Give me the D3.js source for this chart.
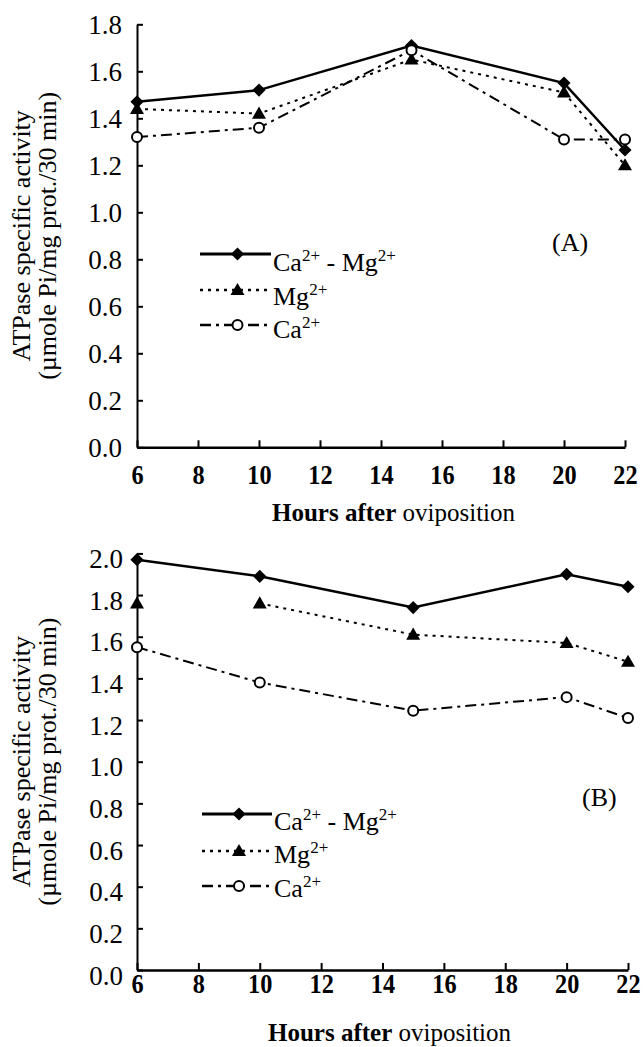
<!DOCTYPE html>
<html>
<head>
<meta charset="utf-8">
<script src="https://cdn.jsdelivr.net/npm/d3@7"></script>
<style>
  body { margin: 0; background: #fff; }
  svg { display: block; }
  text { font-family: "Liberation Serif", "Times New Roman", serif; fill: #000; }
</style>
</head>
<body>
<svg id="chart" width="644" height="1047"></svg>
<script>
// ---------- data ----------
const hours = [6, 10, 15, 20, 22];
const xTicks = [6, 8, 10, 12, 14, 16, 18, 20, 22];
const yTicksA = [0, 0.2, 0.4, 0.6, 0.8, 1.0, 1.2, 1.4, 1.6, 1.8];
const yTicksB = [0, 0.2, 0.4, 0.6, 0.8, 1.0, 1.2, 1.4, 1.6, 1.8, 2.0];
const seriesNames = ["Ca-Mg", "Mg", "Ca"];

// Panel A
const caMgA = [1.47, 1.52, 1.71, 1.55, 1.265];
const mgA   = [1.44, 1.42, 1.65, 1.51, 1.20];
const caA   = [1.32, 1.36, 1.69, 1.31, 1.31];

// Panel B
const caMgB = [1.97, 1.89, 1.74, 1.90, 1.84];
const mgB   = [1.76, 1.76, 1.61, 1.57, 1.48];
const caB   = [1.55, 1.38, 1.245, 1.31, 1.21];

const panelLabels = ["(A)", "(B)"];
const xTitle = ["Hours after", " oviposition"];
const yTitle = ["ATPase specific activity", "(µmole Pi/mg prot./30 min)"];

// ---------- drawing ----------
const svg = d3.select("#chart");

const styles = {
  "Ca-Mg": { dash: null, marker: "diamond", width: 2.5 },
  "Mg":    { dash: "3,5", marker: "triangle", width: 2 },
  "Ca":    { dash: "11,5,3,5", marker: "circle", width: 2 }
};

function drawMarker(g, type, x, y) {
  if (type === "diamond") {
    g.append("path").attr("d", d3.symbol().type(d3.symbolDiamond2).size(110)())
      .attr("transform", `translate(${x},${y})`).attr("fill", "#000");
  } else if (type === "triangle") {
    g.append("path").attr("d", d3.symbol().type(d3.symbolTriangle).size(85)())
      .attr("transform", `translate(${x},${y + 1})`).attr("fill", "#000");
  } else {
    g.append("circle").attr("cx", x).attr("cy", y).attr("r", 5)
      .attr("fill", "#fff").attr("stroke", "#000").attr("stroke-width", 2);
  }
}

function panel(cfg) {
  const g = svg.append("g");
  const x = d3.scaleLinear().domain([6, 22]).range(cfg.xRange);
  const y = d3.scaleLinear().domain(cfg.yDomain).range(cfg.yRange);

  // y axis
  const ya = g.append("g").attr("transform", `translate(${cfg.xRange[0]},0)`)
    .call(d3.axisLeft(y).tickValues(cfg.yTicks).tickFormat(d3.format(".1f"))
      .tickSizeInner(-6).tickSizeOuter(0).tickPadding(cfg.yPad));
  ya.attr("font-family", null).attr("font-size", null);
  ya.selectAll("text").attr("font-size", 27).attr("dy", cfg.yDy);
  ya.select(".domain").attr("stroke-width", 2);
  ya.selectAll(".tick line").attr("stroke-width", 2);

  // x axis
  const xa = g.append("g").attr("transform", `translate(0,${cfg.yRange[0]})`)
    .call(d3.axisBottom(x).tickValues(xTicks).tickFormat(d3.format("d"))
      .tickSizeInner(-7).tickSizeOuter(0).tickPadding(cfg.xPad));
  xa.attr("font-family", null).attr("font-size", null);
  xa.selectAll("text").attr("font-size", 27).attr("font-weight", "bold")
    .attr("transform", "scale(0.9,1)");
  xa.select(".domain").attr("stroke-width", 2.5);
  xa.selectAll(".tick line").attr("stroke-width", 2);

  // lines
  cfg.data.forEach((vals, i) => {
    const name = seriesNames[i];
    const st = styles[name];
    let pts = hours.map((h, j) => [h, vals[j]]);
    if (cfg.skipFirst && cfg.skipFirst[name]) {
      pts = pts.slice(1);
    }
    const line = d3.line().x(d => x(d[0])).y(d => y(d[1]));
    g.append("path").attr("d", line(pts)).attr("fill", "none")
      .attr("stroke", "#000").attr("stroke-width", st.width)
      .attr("stroke-dasharray", st.dash);
  });
  cfg.data.forEach((vals, i) => {
    const st = styles[seriesNames[i]];
    hours.forEach((h, j) => drawMarker(g, st.marker, x(h), y(vals[j])));
  });

  // legend
  const leg = g.append("g");
  seriesNames.forEach((name, i) => {
    const st = styles[name];
    const ly = cfg.legY[i];
    leg.append("line").attr("x1", cfg.legX[0]).attr("x2", cfg.legX[1])
      .attr("y1", ly).attr("y2", ly).attr("stroke", "#000").attr("stroke-width", st.width + 0.5)
      .attr("stroke-dasharray", st.dash);
    drawMarker(leg, st.marker, (cfg.legX[0] + cfg.legX[1]) / 2 + 2, ly);
    const t = leg.append("text").attr("x", cfg.legX[1] + 2).attr("y", cfg.legText[i])
      .attr("font-size", 26);
    if (name === "Ca-Mg") {
      t.append("tspan").text("Ca");
      t.append("tspan").attr("font-size", 17).attr("dy", -10).text("2+");
      t.append("tspan").attr("dy", 10).text(" - Mg");
      t.append("tspan").attr("font-size", 17).attr("dy", -10).text("2+");
    } else {
      t.append("tspan").text(name);
      t.append("tspan").attr("font-size", 17).attr("dy", -10).text("2+");
    }
  });

  // panel label
  g.append("text").attr("x", cfg.label[0]).attr("y", cfg.label[1])
    .attr("font-size", 26).text(cfg.labelText);

  // x title
  const xt = g.append("text").attr("x", cfg.xTitle[0]).attr("y", cfg.xTitle[1])
    .attr("font-size", 25).attr("text-anchor", "start");
  xt.append("tspan").attr("font-weight", "bold").text(xTitle[0]);
  xt.append("tspan").text(xTitle[1]);

  // y title
  const cy = (cfg.yRange[0] + cfg.yRange[1]) / 2;
  yTitle.forEach((s, i) => {
    g.append("text").attr("transform", `translate(${cfg.yTitleX[i]},${cy}) rotate(-90)`)
      .attr("text-anchor", "middle").attr("font-size", 26).text(s);
  });
}

panel({
  xRange: [137, 625], yDomain: [0, 1.8], yRange: [447.3, 24.3],
  yTicks: yTicksA, yPad: 15, yDy: "0.34em", xPad: 18,
  data: [caMgA, mgA, caA],
  legX: [200, 271], legY: [254, 290, 325], legText: [271, 305, 338],
  label: [552, 251], labelText: panelLabels[0],
  xTitle: [272, 521], yTitleX: [30, 56]
});

panel({
  xRange: [137, 628], yDomain: [0, 2.0], yRange: [970, 553.4],
  yTicks: yTicksB, yPad: 14, yDy: "0.52em", xPad: 4,
  data: [caMgB, mgB, caB], skipFirst: { "Mg": true },
  legX: [202, 272], legY: [814, 851, 886], legText: [830, 863, 897],
  label: [582, 806], labelText: panelLabels[1],
  xTitle: [268, 1041], yTitleX: [30, 56]
});
</script>
</body>
</html>
